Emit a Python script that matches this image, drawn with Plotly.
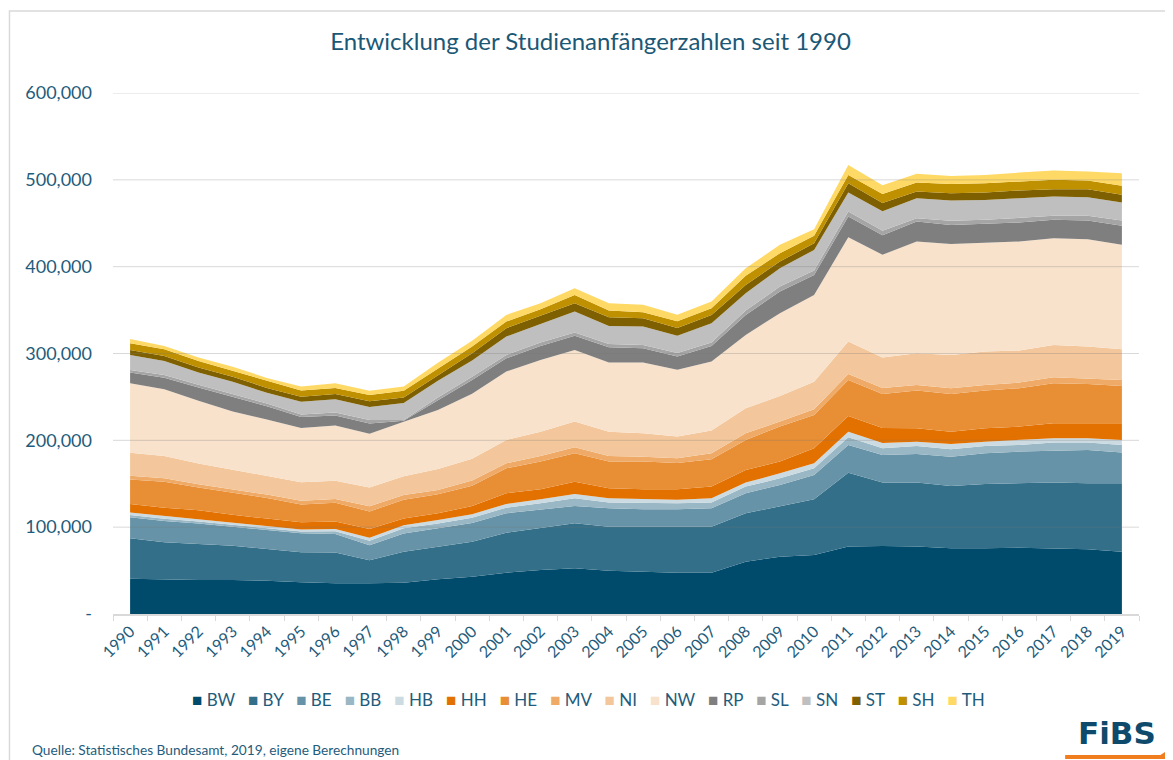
import plotly.graph_objects as go

years = [str(y) for y in range(1990, 2020)]

BW = [40500, 39600, 39200, 39200, 38400, 36500, 35300, 35300, 36100, 39900, 43000, 47600, 50700, 52600, 49900, 48800, 47600, 47600, 60300, 66000, 68000, 77600, 78300, 77600, 75600, 75600, 76400, 75300, 74500, 71800]
BY = [46800, 43000, 41400, 39500, 36500, 34500, 35400, 26500, 35700, 37700, 40300, 46100, 48000, 51800, 50700, 51800, 53000, 53000, 55700, 58400, 64100, 85200, 73000, 73700, 71900, 74200, 74100, 76000, 76000, 78700]
BE = [24000, 24500, 23500, 21500, 22000, 22000, 21500, 17500, 21000, 21000, 21500, 22300, 21100, 20000, 21100, 20000, 20000, 21100, 23000, 24200, 28000, 31900, 31900, 33000, 33700, 35300, 36500, 36900, 38400, 35400]
BB = [2700, 2700, 2400, 2200, 2000, 2000, 3000, 5000, 6000, 5700, 6000, 6500, 7700, 8800, 6600, 6900, 6900, 6600, 7700, 7700, 7700, 8800, 7600, 9200, 8500, 8400, 7700, 9200, 8500, 8800]
HB = [3000, 3100, 2500, 2200, 2200, 2200, 2800, 3500, 3500, 3900, 4200, 4200, 4600, 5000, 4900, 4600, 4000, 4900, 4600, 5700, 5800, 6500, 6000, 5000, 6000, 5000, 5700, 5000, 5000, 5700]
HH = [9600, 9600, 10500, 9600, 8800, 8400, 8500, 10000, 7700, 7700, 9300, 12300, 11500, 14200, 11600, 11500, 12300, 13500, 14600, 13500, 17200, 18100, 17300, 15400, 14200, 15400, 15400, 17200, 17200, 19200]
HE = [28400, 29900, 26100, 25700, 23800, 20500, 21500, 20300, 21500, 22000, 23400, 28800, 31900, 32700, 30700, 31900, 30000, 31500, 34500, 40300, 38400, 41500, 39200, 43400, 43400, 43400, 44200, 46100, 45400, 43100]
MV = [4200, 3900, 3900, 3800, 3800, 4200, 4500, 6000, 5500, 5000, 6000, 5800, 6500, 6900, 6500, 5700, 5700, 6900, 7700, 5800, 6600, 6900, 6900, 6500, 6600, 6500, 6500, 6900, 6500, 6900]
NI = [26500, 25700, 23800, 22300, 21200, 21500, 21000, 21500, 21700, 24000, 25000, 26800, 28000, 29600, 28000, 26900, 25000, 26100, 28800, 29500, 31800, 37200, 35300, 36500, 38400, 38400, 36900, 37300, 36500, 35300]
NW = [80000, 76800, 72200, 67200, 65200, 62500, 63500, 62000, 62800, 68000, 74900, 78800, 82600, 82500, 79500, 81400, 76800, 79500, 84500, 95300, 99900, 120200, 118300, 128600, 127800, 125600, 125500, 122900, 123600, 120200]
RP = [12300, 13400, 15300, 17000, 15400, 12500, 11500, 11800, 1100, 11200, 16000, 15300, 16100, 16200, 17700, 16500, 15300, 18000, 23000, 24900, 23000, 23800, 22300, 23100, 21900, 21500, 21900, 21100, 21500, 21900]
SL = [3000, 3100, 3100, 3100, 3100, 3000, 3500, 3900, 800, 3100, 3500, 3900, 3900, 3800, 3800, 3900, 3900, 3900, 5000, 5800, 5000, 5800, 5300, 3800, 5000, 4600, 5000, 4600, 5400, 6100]
SN = [17300, 16100, 14200, 14200, 12300, 14500, 15200, 15000, 19500, 19500, 18800, 21100, 21500, 24200, 20800, 21100, 20000, 22200, 20000, 21100, 23800, 21900, 22300, 23000, 23100, 23000, 23000, 22300, 21500, 20800]
ST = [5800, 5800, 5800, 5700, 5700, 5800, 6100, 6800, 6500, 6500, 8300, 9600, 9200, 9600, 10000, 9600, 8800, 9600, 9600, 7700, 7700, 10700, 9600, 7700, 8400, 8500, 8900, 8400, 9200, 8800]
SH = [7700, 7700, 7600, 7000, 7700, 7200, 7000, 7000, 7700, 7700, 8000, 7700, 7700, 9600, 7600, 6900, 7700, 7700, 10400, 9600, 8500, 9600, 10400, 10400, 10800, 10700, 10300, 10800, 10000, 10400]
TH = [5000, 3800, 3900, 4600, 3800, 4600, 5500, 5000, 5000, 6500, 6500, 7600, 6900, 7700, 8500, 8500, 7600, 7700, 8800, 9600, 7600, 11500, 10000, 10000, 9200, 9600, 10400, 10700, 10400, 14500]

state_names = ["BW", "BY", "BE", "BB", "HB", "HH", "HE", "MV", "NI", "NW", "RP", "SL", "SN", "ST", "SH", "TH"]
state_values = [BW, BY, BE, BB, HB, HH, HE, MV, NI, NW, RP, SL, SN, ST, SH, TH]
state_colors = ["#004B6C", "#336F89", "#6693A7", "#99B7C4", "#CCDBE2", "#E37100", "#E88E34",
                "#EEAA66", "#F3C79B", "#F8E2CB", "#7F7F7F", "#A5A5A5", "#BFBFBF", "#7F6000",
                "#BF9000", "#FFD966"]

y_ticks = [0, 100000, 200000, 300000, 400000, 500000, 600000]
y_ticktext = ["-", "100,000", "200,000", "300,000", "400,000", "500,000", "600,000"]

TEXT = "#1F5C7C"
FONT = "Lato"

fig = go.Figure()
for name, vals, col in zip(state_names, state_values, state_colors):
    fig.add_trace(go.Scatter(
        x=years, y=vals, name=name, stackgroup="one", mode="lines",
        line=dict(width=0, color=col), fillcolor=col, showlegend=False,
    ))

# horizontal gridlines drawn above the areas
shapes = []
for v in y_ticks[1:]:
    shapes.append(dict(type="line", xref="paper", x0=0, x1=1, yref="y", y0=v, y1=v,
                       layer="above", line=dict(color="rgba(120,120,120,0.28)", width=1)))
# outer frame
shapes.append(dict(type="rect", xref="paper", yref="paper", x0=-0.1009, x1=1.3, y0=-0.6, y1=1.1574,
                   layer="below", line=dict(color="#D9D9D9", width=1.5)))
# logo underline
shapes.append(dict(type="line", xref="paper", yref="paper", x0=0.928, x1=1.021, y0=-0.2745, y1=-0.2745,
                   line=dict(color="#F07D1E", width=4)))
shapes.append(dict(type="path", xref="paper", yref="paper",
                   path="M 1.015 -0.2785 L 1.040 -0.2785 L 1.040 -0.245 Z",
                   fillcolor="#F07D1E", line=dict(width=0)))

legend_text = "\u00a0\u00a0\u00a0".join(
    f"<span style='color:{c}'>■</span>\u00a0{n}" for n, c in zip(state_names, state_colors)
)

annotations = [
    dict(text=legend_text, xref="paper", yref="paper", x=0.463, y=-0.165,
         xanchor="center", yanchor="middle", showarrow=False,
         font=dict(family=FONT, size=17, color=TEXT)),
    dict(text="Quelle: Statistisches Bundesamt, 2019, eigene Berechnungen", xref="paper", yref="paper",
         x=-0.081, y=-0.261, xanchor="left", yanchor="middle", showarrow=False,
         font=dict(family=FONT, size=13.7, color=TEXT)),
    dict(text="<b>FiBS</b>", xref="paper", yref="paper", x=0.9786, y=-0.2284,
         xanchor="center", yanchor="middle", showarrow=False,
         font=dict(family="DejaVu Sans", size=31, color="#0E4A6B")),
]

# the page places the figure 8px from the top-left corner, so the figure is 8px smaller
fig.update_layout(
    width=1165, height=752,
    margin=dict(l=105, r=34, t=85, b=146),
    paper_bgcolor="white", plot_bgcolor="white",
    title=dict(text="Entwicklung der Studienanfängerzahlen seit 1990", x=0.5, xanchor="center",
               y=1 - 34 / 752, yanchor="middle", font=dict(family=FONT, size=24, color="#1B5876")),
    font=dict(family=FONT, color=TEXT),
    shapes=shapes, annotations=annotations,
    showlegend=False,
    hovermode=False,
)
fig.update_xaxes(type="category", range=[-0.5, 29.5], tickson="boundaries", tickangle=-45,
                 showgrid=False, showline=True, linecolor="#D9D9D9", linewidth=1.5,
                 ticks="outside", ticklen=5, tickcolor="#D9D9D9",
                 tickfont=dict(family=FONT, size=16, color=TEXT))
fig.update_yaxes(range=[0, 600000], tickvals=y_ticks, ticktext=y_ticktext, showgrid=False,
                 zeroline=False, showline=False, ticks="", ticklabelstandoff=20,
                 tickfont=dict(family=FONT, size=18, color=TEXT))

fig.write_html("out.html")
